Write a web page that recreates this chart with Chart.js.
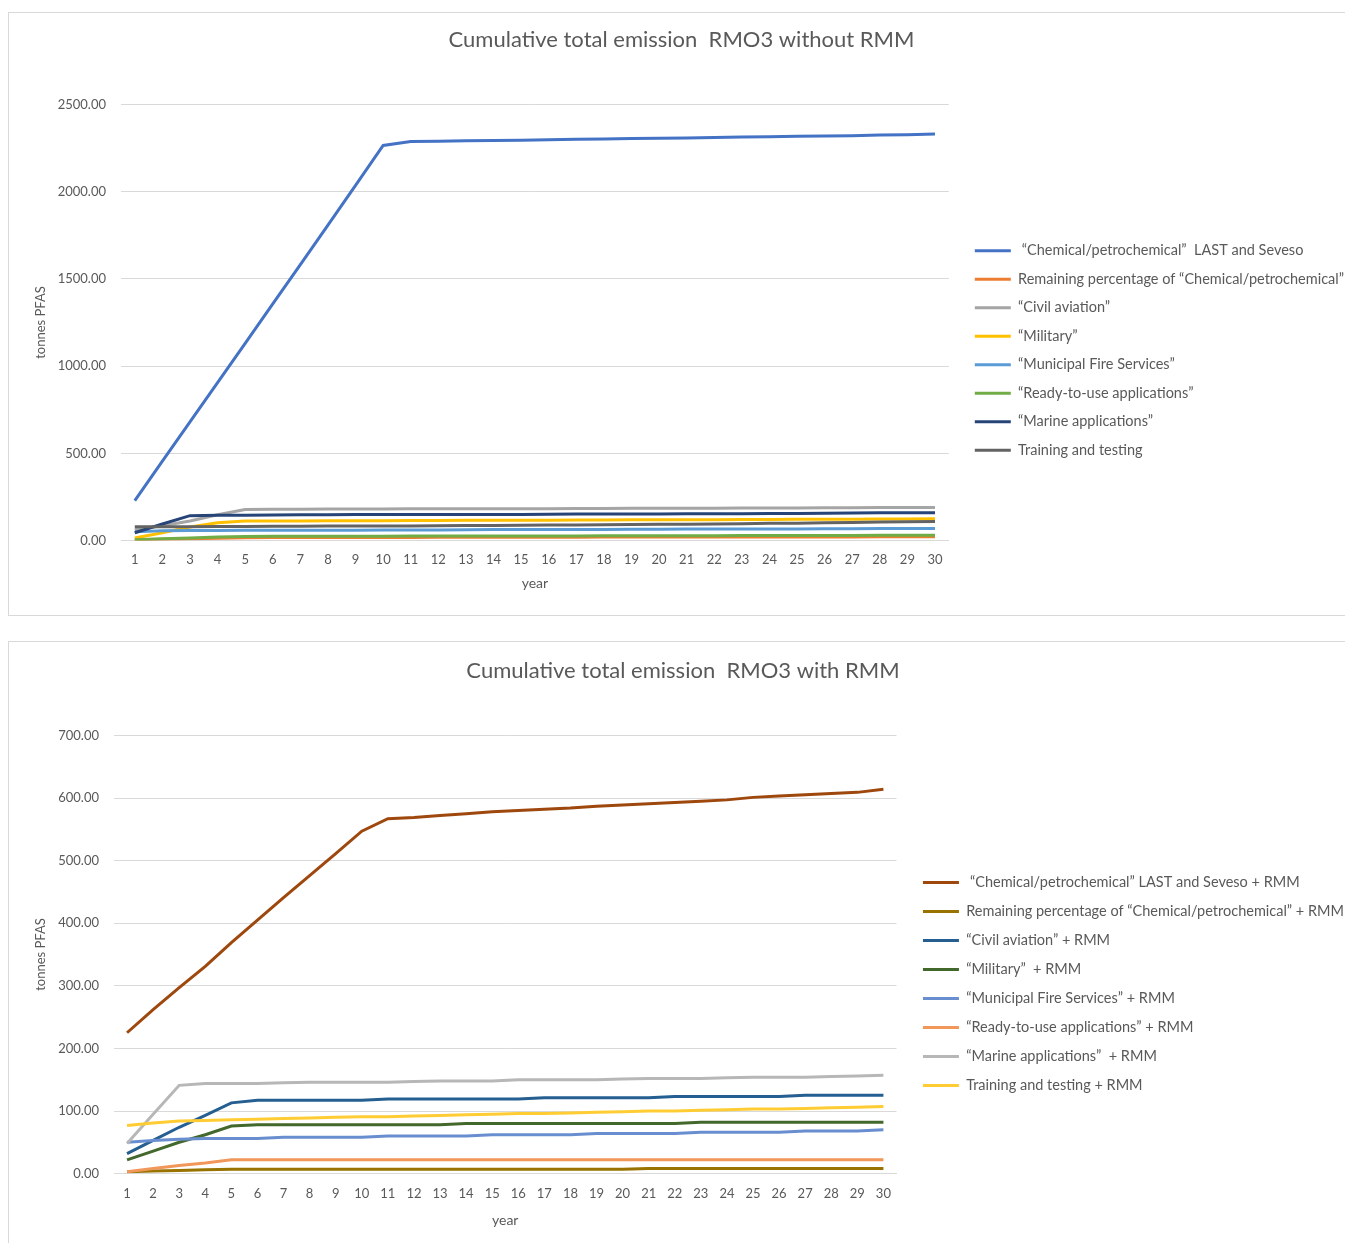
<!DOCTYPE html>
<html>
<head>
<meta charset="utf-8">
<script src="https://cdn.jsdelivr.net/npm/chart.js@4.4.0/dist/chart.umd.min.js"></script>
<style>
  body { margin: 0; background: #fff; overflow: hidden; }
  .panel { position: absolute; left: 8px; width: 1345px; height: 602px; border: 1px solid #d9d9d9; background: #fff; }
  #p1 { top: 12px; }
  #p2 { top: 641px; }
</style>
</head>
<body>
<div class="panel" id="p1"><canvas id="c1" width="1345" height="602"></canvas></div>
<div class="panel" id="p2"><canvas id="c2" width="1345" height="602"></canvas></div>
<script>
// years on the x axis
const years = Array.from({ length: 30 }, (_, i) => String(i + 1));

// --- chart 1: without RMM ---
const names1 = [
  ' “Chemical/petrochemical”  LAST and Seveso',
  'Remaining percentage of “Chemical/petrochemical”',
  '“Civil aviation”',
  '“Military”',
  '“Municipal Fire Services”',
  '“Ready-to-use applications”',
  '“Marine applications”',
  'Training and testing'
];
const colors1 = ['#4472C4', '#ED7D31', '#A5A5A5', '#FFC000', '#5B9BD5', '#70AD47', '#264478', '#636363'];
const chemLast = [229, 455, 680, 906, 1131, 1357, 1582, 1808, 2036, 2265, 2287, 2289, 2291, 2293, 2295, 2298, 2300, 2302, 2304, 2306, 2308, 2310, 2313, 2315, 2317, 2319, 2321, 2324, 2326, 2330];
const remaining = [5, 8, 11, 14, 17, 18, 18, 18, 18, 18, 18, 19, 19, 19, 19, 19, 19, 20, 20, 20, 20, 20, 21, 21, 21, 21, 21, 22, 22, 22];
const civil = [62, 85, 112, 148, 178, 179, 180, 181, 181, 181, 182, 182, 182, 183, 183, 183, 184, 184, 185, 186, 186, 186, 187, 187, 187, 188, 188, 189, 189, 190];
const military = [15, 45, 78, 102, 112, 113, 113, 114, 114, 114, 115, 115, 116, 116, 117, 117, 118, 118, 119, 119, 120, 120, 121, 121, 122, 122, 123, 124, 124, 125];
const municipal = [50, 57, 58, 58, 59, 59, 60, 60, 60, 61, 61, 61, 62, 63, 63, 64, 64, 64, 65, 65, 66, 66, 66, 67, 67, 68, 68, 69, 69, 70];
const readyToUse = [5, 10, 15, 20, 24, 25, 25, 25, 25, 25, 26, 26, 26, 27, 27, 27, 27, 28, 28, 28, 28, 28, 29, 29, 29, 29, 29, 30, 30, 30];
const marine = [45, 95, 143, 145, 146, 147, 148, 148, 149, 149, 149, 150, 150, 150, 150, 151, 152, 153, 153, 153, 154, 154, 154, 155, 155, 157, 158, 159, 159, 160];
const training = [80, 80, 80, 81, 81, 82, 82, 83, 83, 84, 84, 85, 86, 87, 88, 89, 90, 91, 92, 93, 94, 95, 97, 99, 100, 102, 104, 106, 108, 110];

// --- chart 2: with RMM ---
const names2 = [
  ' “Chemical/petrochemical” LAST and Seveso + RMM',
  'Remaining percentage of “Chemical/petrochemical” + RMM',
  '“Civil aviation” + RMM',
  '“Military”  + RMM',
  '“Municipal Fire Services” + RMM',
  '“Ready-to-use applications” + RMM',
  '“Marine applications”  + RMM',
  'Training and testing + RMM'
];
const colors2 = ['#9E480E', '#997300', '#255E91', '#43682B', '#698ED0', '#F1975A', '#B7B7B7', '#FFCD33'];
const chemRmm = [225, 262, 297, 331, 369, 405, 441, 476, 511, 547, 567, 569, 572, 575, 578, 580, 582, 584, 587, 589, 591, 593, 595, 597, 601, 603, 605, 607, 609, 614];
const remainingRmm = [3, 4, 5, 6, 7, 7, 7, 7, 7, 7, 7, 7, 7, 7, 7, 7, 7, 7, 7, 7, 8, 8, 8, 8, 8, 8, 8, 8, 8, 8];
const civilRmm = [32, 53, 74, 93, 113, 117, 117, 117, 117, 117, 119, 119, 119, 119, 119, 119, 121, 121, 121, 121, 121, 123, 123, 123, 123, 123, 125, 125, 125, 125];
const militaryRmm = [22, 36, 50, 62, 76, 78, 78, 78, 78, 78, 78, 78, 78, 80, 80, 80, 80, 80, 80, 80, 80, 80, 82, 82, 82, 82, 82, 82, 82, 82];
const municipalRmm = [50, 53, 55, 56, 56, 56, 58, 58, 58, 58, 60, 60, 60, 60, 62, 62, 62, 62, 64, 64, 64, 64, 66, 66, 66, 66, 68, 68, 68, 70];
const readyRmm = [3, 8, 13, 17, 22, 22, 22, 22, 22, 22, 22, 22, 22, 22, 22, 22, 22, 22, 22, 22, 22, 22, 22, 22, 22, 22, 22, 22, 22, 22];
const marineRmm = [48, 95, 141, 144, 144, 144, 145, 146, 146, 146, 146, 147, 148, 148, 148, 150, 150, 150, 150, 151, 152, 152, 152, 153, 154, 154, 154, 155, 156, 157];
const trainingRmm = [77, 81, 84, 85, 86, 87, 88, 89, 90, 91, 91, 92, 93, 94, 95, 96, 96, 97, 98, 99, 100, 100, 101, 102, 103, 103, 104, 105, 106, 107];

const FONT = 'Lato, "Open Sans", sans-serif';
const TEXT = '#595959';
const LINE_W = 36;

function makeChart(id, title, names, colors, series, cfg) {
  const n = series.length;
  const datasets = series.map((data, i) => ({
    label: names[i],
    data: data,
    borderColor: colors[i],
    backgroundColor: colors[i],
    borderWidth: 3,
    pointRadius: 0,
    tension: 0,
    order: n - i // later series drawn on top, like Excel
  }));

  return new Chart(id, {
    type: 'line',
    data: { labels: years, datasets: datasets },
    options: {
      responsive: false,
      animation: false,
      layout: { padding: { left: cfg.padLeft, right: 0, top: 0, bottom: cfg.padBottom } },
      plugins: {
        title: {
          display: true,
          text: title,
          color: TEXT,
          font: { family: FONT, size: 22, weight: 'normal' },
          padding: { top: cfg.titleTop, bottom: 51 }
        },
        legend: {
          position: 'right',
          maxWidth: 600,
          title: { display: true, text: ' ', font: { size: 10 }, padding: { top: cfg.legTitle, bottom: 0 } },
          labels: {
            sort: (a, b) => a.datasetIndex - b.datasetIndex,
            usePointStyle: true,
            pointStyle: 'line',
            pointStyleWidth: LINE_W,
            boxHeight: 13,
            padding: cfg.legPad,
            color: TEXT,
            font: { family: FONT, size: 14.5 }
          }
        },
        tooltip: { enabled: false }
      },
      scales: {
        x: {
          offset: true,
          grid: { display: false },
          border: { color: '#d9d9d9' },
          ticks: { color: TEXT, font: { family: FONT, size: 13 }, maxRotation: 0, autoSkip: false, padding: cfg.xTickPad },
          title: { display: true, text: 'year', color: TEXT, font: { family: FONT, size: 14 }, padding: { top: cfg.xTitlePad, bottom: 4 } }
        },
        y: {
          min: 0,
          max: cfg.yMax,
          grid: { color: '#d9d9d9', drawTicks: false },
          border: { display: false },
          afterFit: s => { s.width = cfg.yWidth; },
          ticks: {
            stepSize: cfg.yStep,
            padding: 15,
            color: TEXT,
            font: { family: FONT, size: 13 },
            callback: v => v.toFixed(2)
          },
          title: { display: true, text: 'tonnes PFAS', color: TEXT, font: { family: FONT, size: 13 }, padding: { top: cfg.yTitleTop, bottom: 0 } }
        },
        // empty spacer between plot and legend
        gap: {
          type: 'linear',
          position: 'right',
          display: true,
          grid: { display: false },
          border: { display: false },
          ticks: { display: false },
          afterFit: s => { s.width = cfg.gap; }
        }
      }
    }
  });
}

makeChart('c1', 'Cumulative total emission  RMO3 without RMM', names1, colors1,
  [chemLast, remaining, civil, military, municipal, readyToUse, marine, training],
  { yMax: 2500, yStep: 500, padLeft: 0, yWidth: 112, yTitleTop: 24, gap: 12, legPad: 14,
    titleTop: 14, padBottom: 19, xTickPad: 3, xTitlePad: 5, legTitle: 80 });

makeChart('c2', 'Cumulative total emission  RMO3 with RMM', names2, colors2,
  [chemRmm, remainingRmm, civilRmm, militaryRmm, municipalRmm, readyRmm, marineRmm, trainingRmm],
  { yMax: 700, yStep: 100, padLeft: 3, yWidth: 102, yTitleTop: 21, gap: 12, legPad: 14.5,
    titleTop: 16, padBottom: 11, xTickPad: 4, xTitlePad: 7, legTitle: 81 });
</script>
</body>
</html>
